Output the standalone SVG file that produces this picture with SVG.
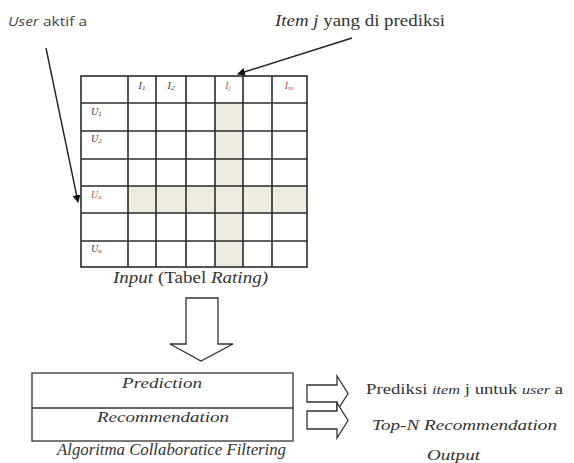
<svg xmlns="http://www.w3.org/2000/svg" width="574" height="463" viewBox="0 0 574 463">
<style>
.grid{stroke:#2b2b2b;stroke-width:1.6;fill:none}
.shade{fill:#ecebdd}
.cl{font-family:"Liberation Serif",serif;font-style:italic;font-size:10px;fill:#333;text-anchor:middle}
.red{fill:#c0504d}
.serif{font-family:"Liberation Serif",serif;fill:#333}
.it{font-style:italic}
.hollow{fill:#fff;stroke:#333;stroke-width:1.3}
.conn{stroke:#222;stroke-width:1.4;fill:none}
</style>
<defs>
<marker id="ah" markerWidth="8" markerHeight="8" refX="7" refY="4" orient="auto" markerUnits="userSpaceOnUse">
<path d="M0,0 L8,4 L0,8 Z" fill="#111"/>
</marker>
</defs>

<g id="label-user">
<text x="8" y="26" font-family="'Open Sans','DejaVu Sans',sans-serif" font-size="12.5" fill="#444" textLength="79" lengthAdjust="spacingAndGlyphs"><tspan font-style="italic">User</tspan> aktif a</text>
</g>

<g id="label-item">
<text x="275" y="26" class="serif" font-size="16" textLength="170" lengthAdjust="spacingAndGlyphs"><tspan class="it">Item j</tspan> yang di prediksi</text>
</g>

<g id="rating-table">
<rect class="shade" x="215" y="103" width="28" height="164"/>
<rect class="shade" x="128" y="186" width="179" height="27"/>
<rect class="grid" x="81" y="76" width="226" height="191"/>
<path class="grid" d="M128,76V267M156,76V267M186,76V267M215,76V267M243,76V267M272,76V267M81,103H307M81,131H307M81,159H307M81,186H307M81,213H307M81,241H307"/>
<text class="cl" x="142" y="89">I<tspan font-size="7" dy="1">1</tspan></text>
<text class="cl" x="171" y="89">I<tspan font-size="7" dy="1">2</tspan></text>
<text class="cl red" x="228" y="89">I<tspan font-size="7" dy="1">j</tspan></text>
<text class="cl red" x="289" y="89">I<tspan font-size="7" dy="1">m</tspan></text>
<text class="cl" x="91" y="115" style="text-anchor:start">U<tspan font-size="7" dy="1">1</tspan></text>
<text class="cl" x="91" y="142" style="text-anchor:start">U<tspan font-size="7" dy="1">2</tspan></text>
<text class="cl red" x="91" y="198" style="text-anchor:start">U<tspan font-size="7" dy="1">a</tspan></text>
<text class="cl" x="91" y="252" style="text-anchor:start">U<tspan font-size="7" dy="1">n</tspan></text>
<text x="113" y="283" class="serif" font-size="16" textLength="155" lengthAdjust="spacingAndGlyphs"><tspan class="it">Input</tspan> (Tabel <tspan class="it">Rating)</tspan></text>
</g>

<g id="down-arrow">
<path class="hollow" d="M186,298 H218 V344 H233 L201,361 L170,344 H186 Z"/>
</g>

<g id="algorithm-box">
<rect x="32" y="373" width="261" height="68" fill="#fff" stroke="#333" stroke-width="1.3"/>
<line x1="32" y1="408" x2="293" y2="408" stroke="#333" stroke-width="1.3"/>
<text x="122" y="388" class="serif it" font-size="15" textLength="80" lengthAdjust="spacingAndGlyphs">Prediction</text>
<text x="97" y="422" class="serif it" font-size="15" textLength="132" lengthAdjust="spacingAndGlyphs">Recommendation</text>
<text x="57" y="455" class="serif it" font-size="16" textLength="229" lengthAdjust="spacingAndGlyphs">Algoritma Collaboratice  Filtering</text>
</g>

<g id="out-arrows">
<path class="hollow" d="M307,385 H337 V376 L348,393.5 L337,411 V402 H307 Z"/>
<path class="hollow" d="M307,411 H337 V403 L348,420.5 L337,438 V429 H307 Z"/>
</g>

<g id="output-text">
<text x="366" y="394" class="serif" font-size="15" textLength="197" lengthAdjust="spacingAndGlyphs">Prediksi <tspan class="it" font-size="13">item</tspan> j untuk <tspan class="it" font-size="13">user</tspan> a</text>
<text x="372" y="430" class="serif it" font-size="15" textLength="185" lengthAdjust="spacingAndGlyphs">Top-N Recommendation</text>
<text x="427" y="460" class="serif it" font-size="15" textLength="53" lengthAdjust="spacingAndGlyphs">Output</text>
</g>

<g id="connectors">
<line class="conn" x1="46" y1="48" x2="78" y2="202" marker-end="url(#ah)"/>
<line class="conn" x1="352" y1="38" x2="238" y2="74" marker-end="url(#ah)"/>
</g>
</svg>
